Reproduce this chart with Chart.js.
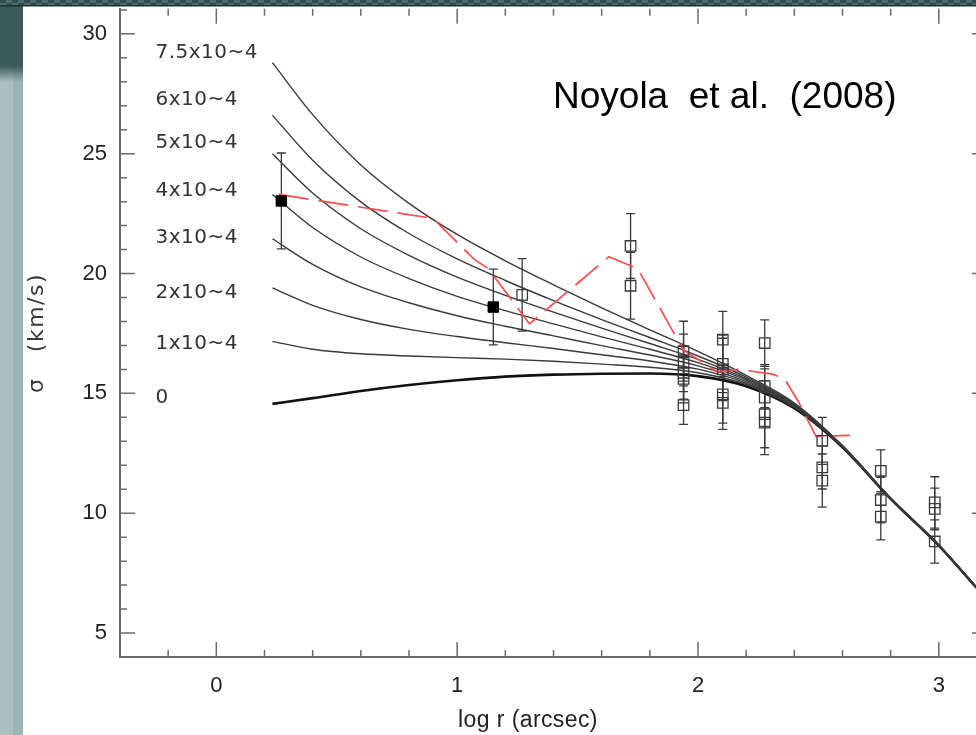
<!DOCTYPE html>
<html>
<head>
<meta charset="utf-8">
<script src="https://cdn.jsdelivr.net/npm/chart.js@4.4.1/dist/chart.umd.min.js"></script>
<style>
  html, body { margin: 0; padding: 0; overflow: hidden; background: #fff; }
  #wrap { width: 976px; height: 735px; overflow: hidden; }
  canvas { display: block; }
</style>
</head>
<body>
<div id="wrap"><canvas id="sigmaChart" width="1000" height="735"></canvas></div>
<script>
// model grid in log r (arcsec)
const logR = [0.233, 0.4, 0.6, 0.8, 1.0, 1.2, 1.4, 1.6, 1.8, 2.0, 2.2, 2.4, 2.6, 2.8, 3.0, 3.16];

// sigma (km/s) for each black hole mass fraction
const model75 = [28.80, 26.63, 24.53, 22.93, 21.63, 20.53, 19.53, 18.57, 17.65, 16.75, 15.75, 14.60, 12.82, 10.63, 8.67, 6.87];
const model60 = [26.60, 24.73, 22.99, 21.67, 20.61, 19.71, 18.87, 18.08, 17.33, 16.56, 15.68, 14.56, 12.81, 10.62, 8.67, 6.87];
const model50 = [25.00, 23.36, 21.87, 20.76, 19.85, 19.09, 18.39, 17.72, 17.08, 16.42, 15.61, 14.53, 12.80, 10.62, 8.66, 6.86];
const model40 = [23.30, 21.92, 20.69, 19.79, 19.05, 18.45, 17.90, 17.36, 16.84, 16.28, 15.55, 14.50, 12.79, 10.61, 8.66, 6.86];
const model30 = [21.45, 20.38, 19.44, 18.78, 18.24, 17.80, 17.40, 16.99, 16.60, 16.15, 15.49, 14.47, 12.78, 10.61, 8.66, 6.86];
const model20 = [19.40, 18.67, 18.08, 17.67, 17.37, 17.11, 16.87, 16.61, 16.35, 16.01, 15.43, 14.44, 12.77, 10.60, 8.65, 6.85];
const model10 = [17.17, 16.84, 16.65, 16.56, 16.49, 16.43, 16.34, 16.22, 16.09, 15.86, 15.37, 14.41, 12.76, 10.60, 8.65, 6.85];
const model00 = [14.56, 14.80, 15.10, 15.35, 15.55, 15.70, 15.78, 15.82, 15.83, 15.72, 15.30, 14.38, 12.75, 10.60, 8.65, 6.85];
const massLabels = ['7.5x10~4', '6x10~4', '5x10~4', '4x10~4', '3x10~4', '2x10~4', '1x10~4', '0'];

// Noyola et al. (2008) profile
const noyolaR = [0.26, 0.90, 1.07, 1.13, 1.30, 1.63, 1.75, 1.94, 2.08, 2.17, 2.31, 2.36, 2.42, 2.49, 2.63];
const noyolaSigma = [23.3, 22.3, 20.6, 20.2, 17.9, 20.7, 20.2, 16.8, 15.9, 16.0, 15.8, 15.6, 14.6, 13.2, 13.25];

// measurements: filled squares
const filledR = [0.27, 1.15];
const filledSigma = [23.03, 18.6];
const filledErr = [2.0, 1.58];

// measurements: open squares
const openR = [1.27, 1.72, 1.72,
  1.94, 1.94, 1.94, 1.94, 1.94,
  2.103, 2.103, 2.103, 2.103, 2.103,
  2.277, 2.277, 2.277, 2.277, 2.277,
  2.516, 2.516, 2.516,
  2.759, 2.759, 2.759,
  2.983, 2.983, 2.983];
const openSigma = [19.11, 21.15, 19.49,
  16.76, 16.27, 15.86, 15.6, 14.51,
  17.24, 16.23, 16.0, 14.96, 14.6,
  17.1, 15.3, 14.82, 14.13, 13.78,
  13.02, 11.91, 11.36,
  11.77, 10.55, 9.86,
  10.45, 10.18, 8.82];
const openErr = [1.51, 1.35, 1.39,
  1.25, 1.2, 1.1, 1.0, 0.8,
  1.18, 1.2, 1.3, 1.2, 1.1,
  0.97, 0.9, 1.2, 1.4, 1.34,
  0.98, 0.9, 1.11,
  0.87, 0.95, 0.97,
  1.07, 0.87, 0.9];

const xTicks = [0, 1, 2, 3];
const yTicks = [5, 10, 15, 20, 25, 30];

const pts = (xs, ys) => xs.map((x, i) => ({ x: x, y: ys[i] }));

const models = [model75, model60, model50, model40, model30, model20, model10, model00];
const modelSets = models.map((m, i) => ({
  label: massLabels[i],
  data: pts(logR, m),
  showLine: true,
  pointRadius: 0,
  borderColor: i === models.length - 1 ? '#111' : '#3a3a3a',
  borderWidth: i === models.length - 1 ? 2.6 : 1.4,
  cubicInterpolationMode: 'monotone',
  fill: false
}));

// paper background, side strip and the patterned top band
const backdrop = {
  id: 'backdrop',
  beforeDraw(chart) {
    const ctx = chart.ctx;
    ctx.save();
    ctx.fillStyle = '#fff';
    ctx.fillRect(0, 0, chart.width, chart.height);
    ctx.fillStyle = '#a9c0bf';
    ctx.fillRect(0, 0, 23, chart.height);
    ctx.fillStyle = '#9db5b4';
    ctx.fillRect(13, 0, 10, chart.height);
    const g = ctx.createLinearGradient(0, 66, 0, 82);
    g.addColorStop(0, '#3a5b5a');
    g.addColorStop(1, 'rgba(58,91,90,0)');
    ctx.fillStyle = '#3a5b5a';
    ctx.fillRect(0, 0, 23, 66);
    ctx.fillStyle = g;
    ctx.fillRect(0, 66, 23, 16);
    ctx.restore();
  },
  afterDraw(chart) {
    const ctx = chart.ctx;
    ctx.save();
    ctx.fillStyle = '#2f4f4e';
    ctx.fillRect(0, 0, chart.width, 6);
    ctx.fillStyle = '#4d6d6c';
    for (let x = 0; x < chart.width; x += 12) {
      ctx.fillRect(x + 6, 0, 6, 3);
      ctx.fillRect(x, 3, 6, 2);
    }
    ctx.fillStyle = '#1c3232';
    ctx.fillRect(0, 5, chart.width, 1.5);
    ctx.restore();
  }
};

// inward major/minor ticks on all four sides
const frameTicks = {
  id: 'frameTicks',
  afterDatasetsDraw(chart) {
    const { ctx, chartArea: a, scales: { x, y } } = chart;
    ctx.save();
    ctx.strokeStyle = '#6a6a6a';
    ctx.lineWidth = 1.5;
    ctx.beginPath();
    for (let v = -0.2; v < 3.21; v += 0.2) {
      const r = Math.round(v * 10) / 10;
      const len = Number.isInteger(r) ? 15 : 7;
      const px = x.getPixelForValue(r);
      ctx.moveTo(px, a.bottom); ctx.lineTo(px, a.bottom - len);
      ctx.moveTo(px, a.top); ctx.lineTo(px, a.top + len);
    }
    for (let v = 5; v <= 31; v++) {
      const len = v % 5 === 0 ? 15 : 7;
      const py = y.getPixelForValue(v);
      ctx.moveTo(a.left, py); ctx.lineTo(a.left + len, py);
      ctx.moveTo(a.right, py); ctx.lineTo(a.right - len, py);
    }
    ctx.stroke();
    ctx.restore();
  }
};

// vertical error bars with caps
const errorBars = {
  id: 'errorBars',
  beforeDatasetsDraw(chart) {
    const { ctx, scales: { x, y } } = chart;
    ctx.save();
    ctx.strokeStyle = '#3a3a3a';
    ctx.lineWidth = 1.3;
    const cap = 4.5;
    const draw = (rs, ss, es) => rs.forEach((r, i) => {
      const px = x.getPixelForValue(r);
      const top = y.getPixelForValue(ss[i] + es[i]);
      const bot = y.getPixelForValue(ss[i] - es[i]);
      ctx.beginPath();
      ctx.moveTo(px, top); ctx.lineTo(px, bot);
      ctx.moveTo(px - cap, top); ctx.lineTo(px + cap, top);
      ctx.moveTo(px - cap, bot); ctx.lineTo(px + cap, bot);
      ctx.stroke();
    });
    draw(filledR, filledSigma, filledErr);
    draw(openR, openSigma, openErr);
    ctx.restore();
  }
};

// curve labels, axis titles and the reference note
const labels = {
  id: 'labels',
  afterDraw(chart) {
    const { ctx, scales: { x, y } } = chart;
    const labelSigma = [29.2, 27.25, 25.45, 23.45, 21.5, 19.2, 17.05, 14.8];
    ctx.save();
    ctx.fillStyle = '#333';
    ctx.font = '20px "DejaVu Sans"';
    ctx.letterSpacing = '0.5px';
    ctx.textAlign = 'left';
    ctx.textBaseline = 'middle';
    massLabels.forEach((t, i) => {
      ctx.fillText(t, x.getPixelForValue(-0.253), y.getPixelForValue(labelSigma[i]));
    });

    ctx.save();
    ctx.translate(37, 333);
    ctx.rotate(-Math.PI / 2);
    ctx.font = '22px "DejaVu Sans"';
    ctx.letterSpacing = '1.5px';
    ctx.textAlign = 'center';
    ctx.fillStyle = '#3a3a3a';
    ctx.fillText('σ   (km/s)', 0, 0);
    ctx.restore();

    ctx.letterSpacing = '0.4px';
    ctx.font = '23px "Liberation Sans"';
    ctx.fillStyle = '#222';
    ctx.textAlign = 'center';
    ctx.fillText('log r (arcsec)', 528, 721);

    ctx.letterSpacing = '0px';
    ctx.font = '37px "Liberation Sans"';
    ctx.fillStyle = '#000';
    ctx.textAlign = 'left';
    ctx.textBaseline = 'alphabetic';
    ctx.fillText('Noyola  et al.  (2008)', 553, 108);
    ctx.restore();
  }
};

new Chart(document.getElementById('sigmaChart'), {
  type: 'scatter',
  data: {
    datasets: [
      {
        label: 'filled',
        data: pts(filledR, filledSigma),
        pointStyle: 'rect',
        pointRadius: 7.4,
        backgroundColor: '#000',
        borderColor: '#000',
        borderWidth: 1
      },
      {
        label: 'open',
        data: pts(openR, openSigma),
        pointStyle: 'rect',
        pointRadius: 7.4,
        backgroundColor: 'rgba(0,0,0,0)',
        borderColor: '#3a3a3a',
        borderWidth: 1.3
      },
      {
        label: 'Noyola et al. (2008)',
        data: pts(noyolaR, noyolaSigma),
        showLine: true,
        pointRadius: 0,
        borderColor: 'rgb(255,75,75)',
        borderWidth: 1.7,
        borderDash: [30, 10],
        tension: 0,
        fill: false
      },
      ...modelSets
    ]
  },
  options: {
    responsive: false,
    devicePixelRatio: 1,
    animation: false,
    events: [],
    layout: { padding: { left: 0, top: 6, right: 13, bottom: 0 } },
    plugins: {
      legend: { display: false },
      tooltip: { enabled: false }
    },
    scales: {
      x: {
        type: 'linear',
        min: -0.4,
        max: 3.2,
        afterFit: s => { s.height = 78; s.paddingLeft = 0; s.paddingRight = 0; },
        afterBuildTicks: s => { s.ticks = xTicks.map(v => ({ value: v })); },
        grid: { display: false, drawTicks: false },
        border: { display: true, color: '#6a6a6a', width: 2 },
        ticks: {
          padding: 16,
          color: '#222',
          font: { family: 'Liberation Sans', size: 22 }
        }
      },
      y: {
        type: 'linear',
        min: 4,
        max: 31.05,
        afterFit: s => { s.width = 120; s.paddingTop = 0; s.paddingBottom = 0; },
        afterBuildTicks: s => { s.ticks = yTicks.map(v => ({ value: v })); },
        grid: { display: false, drawTicks: false },
        border: { display: true, color: '#6a6a6a', width: 2 },
        ticks: {
          padding: 13,
          color: '#222',
          font: { family: 'Liberation Sans', size: 22 }
        }
      }
    }
  },
  plugins: [backdrop, errorBars, frameTicks, labels]
});
</script>
</body>
</html>
